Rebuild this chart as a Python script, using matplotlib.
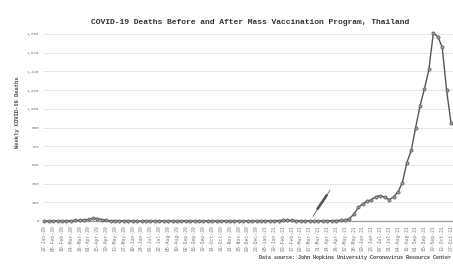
import matplotlib
matplotlib.use("Agg")
import matplotlib.pyplot as plt
import numpy as np
import pandas as pd

# ---- data ----
start_date = "2020-01-22"
weekly_deaths = [
    0, 0, 0, 0, 1, 2, 3, 5, 6, 8,
    15, 26, 24, 14, 6, 3, 2, 1, 1, 0,
    0, 0, 0, 0, 0, 0, 0, 0, 0, 0,
    0, 0, 0, 0, 0, 0, 0, 0, 0, 0,
    0, 0, 0, 0, 0, 0, 0, 1, 0, 1,
    1, 2, 3, 4, 6, 8, 6, 4, 2, 1,
    1, 1, 1, 2, 2, 3, 4, 6, 8, 22,
    65, 130, 165, 190, 205, 235, 245, 228, 205, 232,
    280, 370, 560, 680, 900, 1110, 1275, 1460, 1810, 1775,
    1675, 1260, 940,
]
dates = pd.date_range(start_date, periods=len(weekly_deaths), freq="7D")
date_labels = [d.strftime("%d-%b-%y") for d in dates]
y_ticks = [0, 180, 360, 540, 720, 900, 1080, 1260, 1440, 1620, 1800]
vaccination_start_index = 60.8

title = "COVID-19 Deaths Before and After Mass Vaccination Program, Thailand"
ylabel = "Weekly COVID-19 Deaths"
source = "Data source: John Hopkins University Coronavirus Resource Center"

# ---- figure ----
W, H = 453, 264
fig = plt.figure(figsize=(W / 100, H / 100), dpi=100)
left, right, bottom, top = 43, 455, 221, 34
ax = fig.add_axes([left / W, (H - bottom) / H, (right - left) / W, (bottom - top) / H])

mono = "Liberation Mono"
x = np.arange(len(weekly_deaths))
ax.plot(x, weekly_deaths, color="#555555", lw=1.0, marker="o", ms=2.3,
        mfc="#a0a0a0", mec="#555555", mew=0.5, clip_on=False, zorder=3)

ax.set_xlim(-0.3, 92.9)
ax.set_ylim(0, 1800)
ax.set_yticks(y_ticks)
ax.set_yticklabels([f"{v:,}" for v in y_ticks], fontfamily=mono, fontsize=3.0, color="#777777")
ax.set_xticks(x[::2])
ax.set_xticklabels(date_labels[::2], rotation=90, fontfamily=mono, fontsize=3.4, color="#777777")
ax.tick_params(axis="both", length=0, pad=3)
ax.grid(axis="y", color="#e6e6e6", lw=0.7)
ax.set_axisbelow(True)
for s in ["top", "right", "left"]:
    ax.spines[s].set_visible(False)
ax.spines["bottom"].set_color("#999999")
ax.spines["bottom"].set_linewidth(0.9)

# syringe marker at vaccination start
vx = vaccination_start_index
ax.plot([vx, vx + 0.9], [45, 110], color="#666666", lw=0.6, zorder=4)
ax.plot([vx + 0.9, vx + 3.2], [110, 255], color="#555555", lw=1.9, solid_capstyle="butt", zorder=4)
ax.plot([vx + 3.2, vx + 3.8], [255, 295], color="#777777", lw=0.7, zorder=4)

fig.text(250 / W, (H - 23) / H, title, ha="center", va="center", fontfamily=mono,
         fontweight="bold", fontsize=5.8, color="#333333")
fig.text(18 / W, (H - 112) / H, ylabel, ha="center", va="center", rotation=90,
         fontfamily=mono, fontweight="bold", fontsize=4.0, color="#444444")
fig.text(451 / W, (H - 257) / H, source, ha="right", va="center", fontfamily=mono,
         fontweight="bold", fontsize=3.6, color="#444444")

fig.savefig("out.png", dpi=100)
